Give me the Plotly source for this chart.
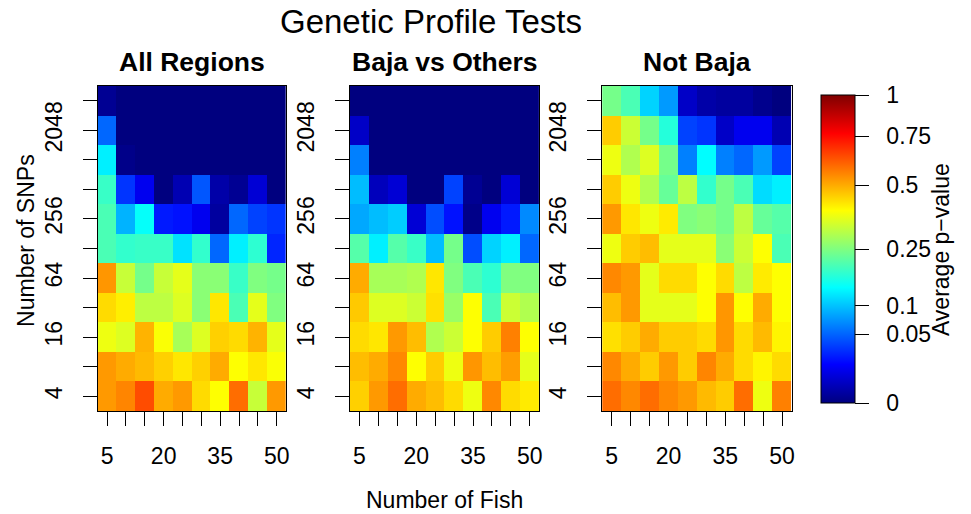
import numpy as np
import plotly.graph_objects as go

fish = [5, 10, 15, 20, 25, 30, 35, 40, 45, 50]
fish_labels = ["5", "", "", "20", "", "", "35", "", "", "50"]
snps = [4, 8, 16, 32, 64, 128, 256, 512, 1024, 2048, 4096]
snp_labels = ["4", "", "16", "", "64", "", "256", "", "", "2048", ""]
panel_titles = ["All Regions", "Baja vs Others", "Not Baja"]

# Average p-values, rows bottom (4 SNPs) to top (4096 SNPs), columns = fish
all_regions = [
    [0.526, 0.555, 0.64, 0.5, 0.526, 0.436, 0.39, 0.59, 0.325, 0.526],
    [0.526, 0.5, 0.48, 0.45, 0.42, 0.45, 0.5, 0.39, 0.42, 0.385],
    [0.37, 0.35, 0.49, 0.385, 0.29, 0.35, 0.45, 0.436, 0.49, 0.36],
    [0.436, 0.41, 0.314, 0.314, 0.35, 0.26, 0.42, 0.2, 0.36, 0.25],
    [0.53, 0.325, 0.24, 0.325, 0.36, 0.26, 0.26, 0.185, 0.25, 0.24],
    [0.2, 0.18, 0.185, 0.185, 0.12, 0.18, 0.051, 0.13, 0.176, 0.026],
    [0.2, 0.09, 0.144, 0.0225, 0.02, 0.012, 0.001, 0.051, 0.036, 0.031],
    [0.185, 0.031, 0.012, 0.0, 0.0025, 0.044, 0.0016, 0.0004, 0.007, 0.0],
    [0.13, 0.0001, 0.0, 0.0, 0.0, 0.0, 0.0, 0.0, 0.0, 0.0],
    [0.051, 0.0, 0.0, 0.0, 0.0, 0.0, 0.0, 0.0, 0.0, 0.0],
    [0.0004, 0.0, 0.0, 0.0, 0.0, 0.0, 0.0, 0.0, 0.0, 0.0],
]
baja_vs_others = [
    [0.45, 0.526, 0.59, 0.5, 0.476, 0.436, 0.37, 0.55, 0.436, 0.416],
    [0.476, 0.5, 0.55, 0.39, 0.456, 0.37, 0.53, 0.476, 0.52, 0.36],
    [0.436, 0.42, 0.526, 0.476, 0.3, 0.33, 0.39, 0.456, 0.5625, 0.39],
    [0.46, 0.35, 0.35, 0.33, 0.43, 0.276, 0.39, 0.2, 0.33, 0.3],
    [0.5, 0.29, 0.29, 0.3, 0.42, 0.25, 0.2, 0.176, 0.25, 0.25],
    [0.21, 0.13, 0.21, 0.185, 0.096, 0.24, 0.04, 0.11, 0.13, 0.051],
    [0.084, 0.096, 0.106, 0.007, 0.04, 0.02, 0.0001, 0.012, 0.0225, 0.068],
    [0.096, 0.0036, 0.007, 0.0, 0.0, 0.036, 0.0004, 0.0, 0.007, 0.0],
    [0.0625, 0.0, 0.0, 0.0, 0.0, 0.0, 0.0, 0.0, 0.0, 0.0],
    [0.005, 0.0, 0.0, 0.0, 0.0, 0.0, 0.0, 0.0, 0.0, 0.0],
    [0.0, 0.0, 0.0, 0.0, 0.0, 0.0, 0.0, 0.0, 0.0, 0.0],
]
not_baja = [
    [0.59, 0.55, 0.59, 0.55, 0.526, 0.48, 0.456, 0.59, 0.37, 0.5625],
    [0.55, 0.5, 0.456, 0.526, 0.456, 0.555, 0.5, 0.436, 0.403, 0.436],
    [0.43, 0.456, 0.5, 0.456, 0.456, 0.436, 0.53, 0.436, 0.48, 0.403],
    [0.476, 0.526, 0.36, 0.36, 0.36, 0.39, 0.53, 0.39, 0.5, 0.39],
    [0.55, 0.526, 0.36, 0.436, 0.436, 0.39, 0.436, 0.314, 0.416, 0.39],
    [0.37, 0.456, 0.476, 0.36, 0.36, 0.36, 0.26, 0.33, 0.39, 0.2],
    [0.526, 0.42, 0.37, 0.416, 0.25, 0.26, 0.24, 0.314, 0.226, 0.21],
    [0.456, 0.37, 0.3, 0.226, 0.314, 0.18, 0.24, 0.2, 0.116, 0.13],
    [0.37, 0.3, 0.35, 0.24, 0.0625, 0.14, 0.0625, 0.051, 0.076, 0.036],
    [0.456, 0.33, 0.24, 0.168, 0.036, 0.031, 0.005, 0.012, 0.012, 0.0025],
    [0.24, 0.2, 0.11, 0.076, 0.005, 0.0016, 0.001, 0.001, 0.0002, 0.0],
]
cbar_vals = [0, 0.05, 0.1, 0.25, 0.5, 0.75, 1]
cbar_labels = ["0", "0.05", "0.1", "0.25", "0.5", "0.75", "1"]

panels = [all_regions, baja_vs_others, not_baja]

W, H = 971, 514
FONT = "Liberation Sans, Arial, sans-serif"
jet = [[0.0, "#00007F"], [0.125, "#0000FF"], [0.375, "#00FFFF"],
       [0.625, "#FFFF00"], [0.875, "#FF0000"], [1.0, "#7F0000"]]

px_x = [(98, 287), (351, 541), (604, 794)]
y_dom = [(H - 411) / H, (H - 86) / H]

fig = go.Figure()
ycats = [str(s) for s in snps]
for i, data in enumerate(panels):
    z = np.sqrt(np.array(data))
    fig.add_trace(go.Heatmap(
        x=fish, y=ycats, z=z, coloraxis="coloraxis",
        xaxis="x" if i == 0 else f"x{i+1}",
        yaxis="y" if i == 0 else f"y{i+1}",
        hovertemplate="fish %{x}<br>SNPs %{y}<extra></extra>",
    ))
    sfx = "" if i == 0 else str(i + 1)
    ax = dict(
        domain=[px_x[i][0] / W, px_x[i][1] / W], range=[2.5, 52.5],
        tickvals=fish, ticktext=fish_labels, ticks="outside", ticklen=14,
        tickcolor="black", tickwidth=1, showline=True, mirror=True,
        linecolor="black", linewidth=1, showgrid=False, zeroline=False,
        tickfont=dict(size=23, color="black", family=FONT),
        ticklabelstandoff=10,
        anchor="y" + sfx,
    )
    ay = dict(
        domain=y_dom, type="category", range=[-0.5, 10.5],
        tickvals=ycats, ticktext=snp_labels, ticks="outside", ticklen=14,
        tickcolor="black", tickwidth=1, showline=True, mirror=True,
        linecolor="black", linewidth=1, showgrid=False, zeroline=False,
        tickangle=-90, tickfont=dict(size=23, color="black", family=FONT),
        ticklabelstandoff=12,
        anchor="x" + sfx,
    )
    fig.layout["xaxis" + sfx] = ax
    fig.layout["yaxis" + sfx] = ay

annotations = [
    dict(text="Genetic Profile Tests", x=432 / W, y=1 - 22 / H, font=dict(size=33)),
    dict(text="Number of Fish", x=446 / W, y=1 - 500 / H, font=dict(size=23)),
    dict(text="Number of SNPs", x=26 / W, y=1 - 240 / H, font=dict(size=23), textangle=-90),
    dict(text="Average p\u2212value", x=944 / W, y=1 - 250 / H, font=dict(size=23), textangle=-90),
]
for i, t in enumerate(panel_titles):
    cx = (px_x[i][0] + px_x[i][1]) / 2 / W
    annotations.append(dict(text=f"<b>{t}</b>", x=cx, y=1 - 62 / H, font=dict(size=26.5)))
for a in annotations:
    a.update(xref="paper", yref="paper", showarrow=False, xanchor="center", yanchor="middle")
    a["font"].update(color="black", family=FONT)

fig.update_layout(
    width=W, height=H, margin=dict(l=0, r=0, t=0, b=0),
    paper_bgcolor="white", plot_bgcolor="white",
    font=dict(family=FONT, color="black"),
    showlegend=False,
    annotations=annotations,
    coloraxis=dict(
        colorscale=jet, cmin=0, cmax=1,
        colorbar=dict(
            x=824 / W, xanchor="left", xpad=0,
            y=(H - 403) / H, yanchor="bottom", ypad=0,
            len=308, lenmode="pixels", thickness=34, thicknessmode="pixels",
            outlinecolor="black", outlinewidth=1,
            tickvals=list(np.sqrt(cbar_vals)),
            ticktext=["\u00a0\u00a0" + t for t in cbar_labels],
            ticks="outside", ticklen=14, tickcolor="black", tickwidth=1,
            tickfont=dict(size=23, color="black", family=FONT),
        ),
    ),
)

fig.write_html(
    "out.html",
    config={"displayModeBar": False},
    post_script="document.body.style.margin='0';document.body.style.overflow='hidden';",
)
